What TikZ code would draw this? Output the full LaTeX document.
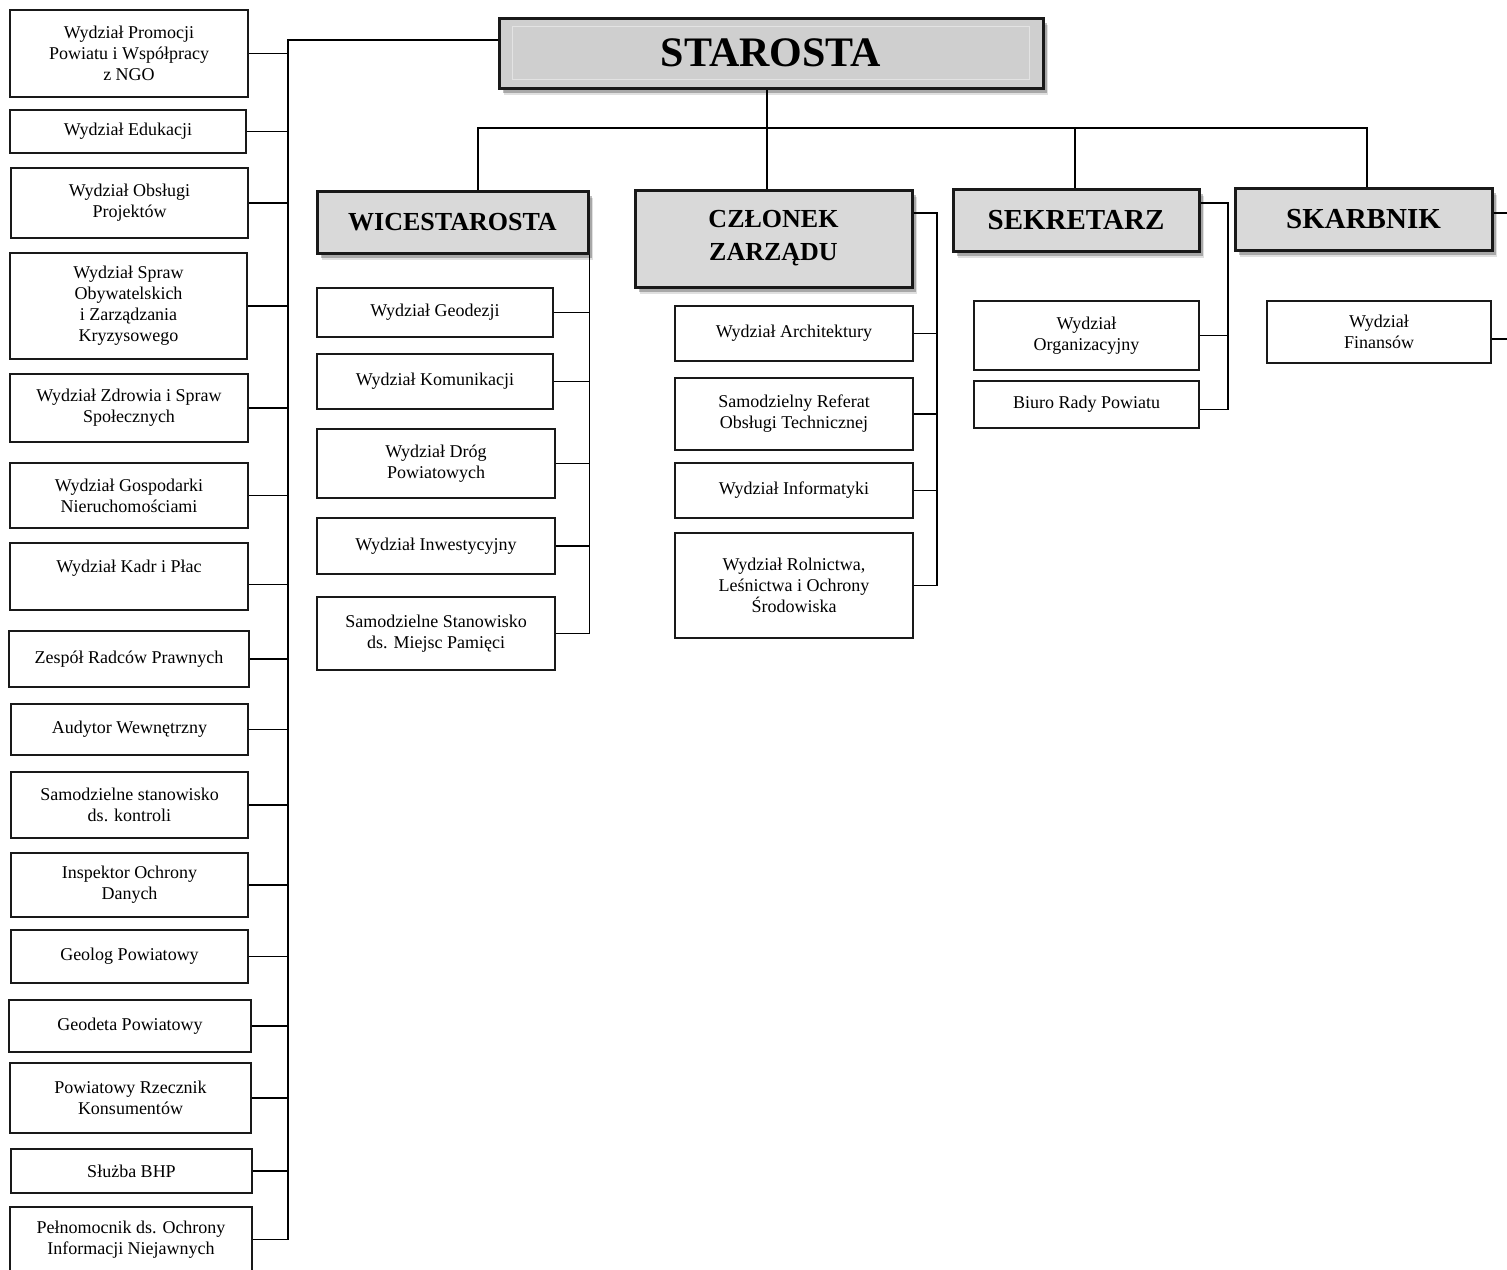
\documentclass[tikz,border=0pt]{standalone}
\usepackage{fontspec}
\setmainfont{Liberation Serif}
\usetikzlibrary{shadows}

\tikzset{
  unit/.style={draw=black!90, line width=2.6pt, fill=white, align=center, inner sep=2pt,
    font=\fontsize{18}{21}\selectfont},
  head/.style={draw=black!90, line width=3pt, fill=black!15, align=center, inner sep=2pt,
    font=\bfseries\fontsize{26}{33}\selectfont,
    drop shadow={shadow xshift=5pt, shadow yshift=-7pt, fill=black, opacity=.12},
    drop shadow={shadow xshift=4pt, shadow yshift=-5pt, fill=black, opacity=.25}},
  link/.style={line width=1.4pt},
}

\begin{document}
\begin{tikzpicture}[x=1pt, y=-1pt]
                    \useasboundingbox (0,0) rectangle (1507,1269);
                    % starosta
                    \node[head, fill=black!19, minimum width=544pt, minimum height=70pt,
                      font=\bfseries\fontsize{42}{46}\selectfont] (starosta) at (771,53) {\raisebox{-3pt}{STAROSTA}};
                    \draw[black!11, line width=.8pt] ([shift={(15pt,-10pt)}]starosta.north west)
                      rectangle ([shift={(-15pt,10pt)}]starosta.south east);
                    % left column
                    \node[unit, minimum width=238pt, minimum height=87pt] (promo) at (129,53.5) {Wydział Promocji\\Powiatu i Współpracy\\z NGO};
                    \node[unit, minimum width=236pt, minimum height=43pt] (eduk) at (128,131.5) {Wydział Edukacji};
                    \node[unit, minimum width=237pt, minimum height=70pt] (proj) at (129.5,203) {Wydział Obsługi\\Projektów};
                    \node[unit, minimum width=237pt, minimum height=106pt] (obyw) at (128.5,306) {Wydział Spraw\\Obywatelskich\\i Zarządzania\\Kryzysowego};
                    \node[unit, minimum width=238pt, minimum height=68pt] (zdrow) at (129,408) {Wydział Zdrowia i Spraw\\Społecznych};
                    \node[unit, minimum width=238pt, minimum height=65pt] (gosp) at (129,495.5) {Wydział Gospodarki\\Nieruchomościami};
                    \node[unit, minimum width=238pt, minimum height=67pt] (kadr) at (129,576.5) {Wydział Kadr i Płac\\\mbox{}};
                    \node[unit, minimum width=240pt, minimum height=56pt] (radc) at (129,659) {Zespół Radców Prawnych};
                    \node[unit, minimum width=237pt, minimum height=51pt] (audyt) at (129.5,729.5) {Audytor Wewnętrzny};
                    \node[unit, minimum width=237pt, minimum height=66pt] (kontr) at (129.5,805) {Samodzielne stanowisko\\ds. kontroli};
                    \node[unit, minimum width=237pt, minimum height=64pt] (iod) at (129.5,885) {Inspektor Ochrony\\Danych};
                    \node[unit, minimum width=237pt, minimum height=53pt] (geol) at (129.5,956.5) {Geolog Powiatowy};
                    \node[unit, minimum width=242pt, minimum height=52pt] (geodp) at (130,1026) {Geodeta Powiatowy};
                    \node[unit, minimum width=241pt, minimum height=70pt] (rzecz) at (130.5,1098) {Powiatowy Rzecznik\\Konsumentów};
                    \node[unit, minimum width=241pt, minimum height=44pt] (bhp) at (131.5,1171) {Służba BHP};
                    \node[unit, minimum width=242pt, minimum height=65pt] (pelnom) at (131,1239.5) {Pełnomocnik ds. Ochrony\\Informacji Niejawnych};
                    \coordinate (lb) at (288,40);
                    \draw[link] (lb -| starosta.west) -- (lb) |- (pelnom.east);
                    \draw[link] (promo.east) -- (promo.east -| lb);
                    \draw[link] (eduk.east) -- (eduk.east -| lb);
                    \draw[link] (proj.east) -- (proj.east -| lb);
                    \draw[link] (obyw.east) -- (obyw.east -| lb);
                    \draw[link] (zdrow.east) -- (zdrow.east -| lb);
                    \draw[link] (gosp.east) -- (gosp.east -| lb);
                    \draw[link] ([yshift=-8pt]kadr.east) -- ([yshift=-8pt]kadr.east -| lb);
                    \draw[link] (radc.east) -- (radc.east -| lb);
                    \draw[link] (audyt.east) -- (audyt.east -| lb);
                    \draw[link] (kontr.east) -- (kontr.east -| lb);
                    \draw[link] (iod.east) -- (iod.east -| lb);
                    \draw[link] (geol.east) -- (geol.east -| lb);
                    \draw[link] (geodp.east) -- (geodp.east -| lb);
                    \draw[link] (rzecz.east) -- (rzecz.east -| lb);
                    \draw[link] (bhp.east) -- (bhp.east -| lb);
                    % second level
                    \node[head, minimum width=271pt, minimum height=62pt] (wice) at (452.5,222) {WICESTAROSTA};
                    \node[head, minimum width=277pt, minimum height=97pt] (czlonek) at (773.5,238.5) {CZŁONEK\\ZARZĄDU};
                    \node[head, minimum width=246pt, minimum height=62pt,
                      font=\bfseries\fontsize{29}{33}\selectfont] (sekr) at (1076,220) {SEKRETARZ};
                    \node[head, minimum width=257pt, minimum height=62pt,
                      font=\bfseries\fontsize{29}{33}\selectfont] (skarb) at (1363.5,219) {SKARBNIK};
                    \coordinate (dW) at (478,128);
                    \coordinate (dS) at (767,128);
                    \coordinate (dK) at (1075,128);
                    \coordinate (dB) at (1367,128);
                    \draw[link] (dS) -- (dS |- starosta.south);
                    \draw[link] (dW |- wice.north) -- (dW) -- (dB) -- (dB |- skarb.north);
                    \draw[link] (dS) -- (dS |- czlonek.north);
                    \draw[link] (dK) -- (dK |- sekr.north);
                    % wicestarosta
                    \node[unit, minimum width=236pt, minimum height=49pt] (geodez) at (435,312.5) {Wydział Geodezji};
                    \node[unit, minimum width=236pt, minimum height=55pt] (komun) at (435,381.5) {Wydział Komunikacji};
                    \node[unit, minimum width=238pt, minimum height=69pt] (drog) at (436,463.5) {Wydział Dróg\\Powiatowych};
                    \node[unit, minimum width=238pt, minimum height=56pt] (inwest) at (436,546) {Wydział Inwestycyjny};
                    \node[unit, minimum width=238pt, minimum height=73pt] (mpam) at (436,633.5) {Samodzielne Stanowisko\\ds. Miejsc Pamięci};
                    \draw[link] (wice.south east) |- (mpam.east);
                    \draw[link] (geodez.east) -- (geodez.east -| wice.east);
                    \draw[link] (komun.east) -- (komun.east -| wice.east);
                    \draw[link] (drog.east) -- (drog.east -| wice.east);
                    \draw[link] (inwest.east) -- (inwest.east -| wice.east);
                    % czlonek zarzadu
                    \node[unit, minimum width=238pt, minimum height=55pt] (arch) at (794,333.5) {Wydział Architektury};
                    \node[unit, minimum width=238pt, minimum height=72pt] (refer) at (794,414) {Samodzielny Referat\\Obsługi Technicznej};
                    \node[unit, minimum width=238pt, minimum height=55pt] (inform) at (794,490.5) {Wydział Informatyki};
                    \node[unit, minimum width=238pt, minimum height=105pt] (rolnic) at (794,585.5) {Wydział Rolnictwa,\\Leśnictwa i Ochrony\\Środowiska};
                    \coordinate (czb) at (937,213);
                    \draw[link] (czb -| czlonek.east) -- (czb) |- (rolnic.east);
                    \draw[link] (arch.east) -- (arch.east -| czb);
                    \draw[link] (refer.east) -- (refer.east -| czb);
                    \draw[link] (inform.east) -- (inform.east -| czb);
                    % sekretarz
                    \node[unit, minimum width=225pt, minimum height=69pt] (organ) at (1086.5,335.5) {Wydział\\Organizacyjny};
                    \node[unit, minimum width=225pt, minimum height=47pt] (biuro) at (1086.5,404.5) {Biuro Rady Powiatu};
                    \coordinate (seb) at (1228,203);
                    \draw[link] (seb -| sekr.east) -- (seb) |- ([yshift=-5pt]biuro.east);
                    \draw[link] (organ.east) -- (organ.east -| seb);
                    % skarbnik
                    \node[unit, minimum width=224pt, minimum height=62pt] (finans) at (1379,332) {Wydział\\Finansów};
                    \coordinate (skb) at (1530,213);
                    \draw[link] (skb -| skarb.east) -- (skb) |- ([yshift=-7pt]finans.east);
\end{tikzpicture}
\end{document}
